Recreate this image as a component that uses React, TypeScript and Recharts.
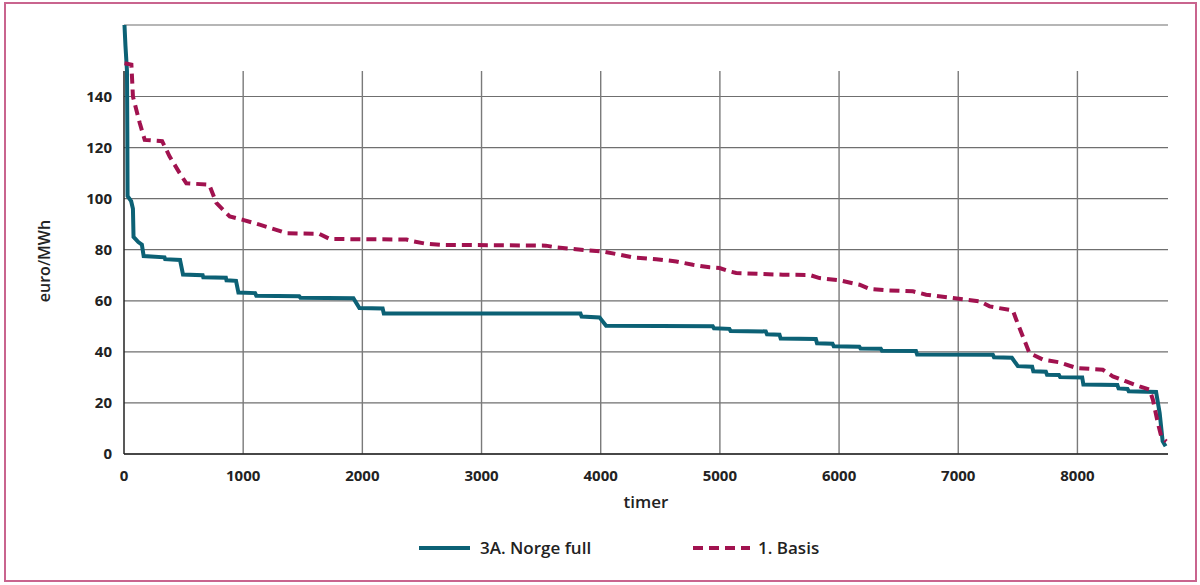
import React from "react";
import { LineChart, Line, XAxis, YAxis, CartesianGrid, ReferenceLine } from "recharts";

// Hours (x) and prices (euro/MWh)
const norgeHours = [4, 12, 25, 28, 30, 60, 75, 80, 120, 150, 165, 340, 345, 470, 495, 660, 665, 855, 860, 940, 960, 1100, 1110, 1470, 1480, 1925, 1975, 2170, 2180, 3830, 3840, 3990, 4045, 4940, 4950, 5080, 5090, 5385, 5395, 5500, 5510, 5805, 5815, 5945, 5955, 6170, 6180, 6350, 6360, 6645, 6655, 7290, 7300, 7450, 7500, 7620, 7630, 7735, 7745, 7845, 7855, 8040, 8050, 8335, 8345, 8420, 8430, 8660, 8690, 8715, 8740];
const norgeValues = [168, 160, 150, 125, 101, 99, 96, 85, 83, 82, 77.5, 77, 76.3, 76, 70.3, 70, 69.2, 69, 68, 67.8, 63.2, 63, 62, 61.8, 61.2, 61, 57.2, 57, 55, 55, 53.8, 53.5, 50.2, 50, 49.2, 49, 48.2, 48, 46.9, 46.7, 45.2, 45, 43.4, 43.2, 42.2, 42, 41.3, 41.2, 40.4, 40.3, 39, 38.9, 37.9, 37.7, 34.4, 34.2, 32.4, 32.2, 31, 30.9, 30.1, 30, 27.2, 27, 25.7, 25.5, 24.6, 24.3, 16, 5, 3];

const basisHours = [4, 62, 75, 132, 174, 320, 383, 467, 523, 715, 775, 887, 998, 1138, 1278, 1362, 1640, 1726, 2370, 2425, 2537, 2676, 3540, 3628, 3767, 3907, 4019, 4131, 4270, 4466, 4634, 4773, 4914, 4997, 5081, 5137, 5528, 5753, 5836, 6004, 6172, 6256, 6396, 6619, 6731, 6955, 7179, 7263, 7458, 7487, 7542, 7598, 7710, 7850, 7990, 8213, 8297, 8409, 8521, 8605, 8633, 8675, 8703, 8745];
const basisValues = [153, 152.5, 140, 129.6, 123, 122.5, 116.5, 110, 106, 105.5, 98.3, 93, 91.7, 89.8, 87.8, 86.5, 86.2, 84.2, 84, 83.3, 82.3, 81.9, 81.6, 80.9, 80.3, 79.7, 79.3, 78.3, 77, 76.3, 75.4, 74.1, 73.1, 72.8, 71.5, 70.9, 70.2, 70.1, 68.9, 68, 66.3, 64.6, 64.1, 63.7, 62.4, 61.1, 59.8, 57.8, 56.2, 52.6, 46, 39.5, 37, 35.9, 33.7, 33, 30.4, 28.4, 26.5, 25.2, 21.3, 12.1, 6.9, 4.9];

const xTicks = [0, 1000, 2000, 3000, 4000, 5000, 6000, 7000, 8000];
const yTicks = [0, 20, 40, 60, 80, 100, 120, 140];
const gridTop = 150;
const seriesNames = ["3A. Norge full", "1. Basis"];

const TEAL = "#0c6175";
const RED = "#a1124f";
const FONT = "'Open Sans', sans-serif";

const norgeData = norgeHours.map((h, i) => ({ h, v: norgeValues[i] }));
const basisData = basisHours.map((h, i) => ({ h, v: basisValues[i] }));

const YLabel = () => (
  <text
    x={44}
    y={261}
    transform="rotate(-90 44 261)"
    textAnchor="middle"
    dominantBaseline="central"
    fontFamily={FONT}
    fontSize={16}
    fontWeight={600}
    fill="#222"
  >
    euro/MWh
  </text>
);

export default function App() {
  return (
    <div style={{ position: "absolute", left: 0, top: 0, width: 1200, height: 585, background: "#fff" }}>
      <div
        style={{
          position: "absolute",
          left: 4,
          top: 2,
          width: 1189,
          height: 576,
          border: "2px solid #c9648e",
        }}
      />
      <div style={{ position: "absolute", left: 0, top: 0 }}>
        <LineChart width={1200} height={585} margin={{ top: 25, right: 32, left: 0, bottom: 0 }}>
          <CartesianGrid vertical={false} stroke="#6f6f6f" strokeWidth={1.2} />
          {xTicks.slice(1).map((t) => (
            <ReferenceLine
              key={t}
              segment={[{ x: t, y: 0 }, { x: t, y: gridTop }]}
              stroke="#7a7a7a"
              strokeWidth={1.4}
              ifOverflow="visible"
            />
          ))}
          <ReferenceLine
            segment={[{ x: 0, y: 0 }, { x: 0, y: gridTop }]}
            stroke="#222"
            strokeWidth={1.5}
            ifOverflow="visible"
          />
          <XAxis
            type="number"
            dataKey="h"
            domain={[0, 8760]}
            ticks={xTicks}
            height={131}
            tickSize={0}
            tickMargin={16}
            axisLine={{ stroke: "#222", strokeWidth: 1.5 }}
            tick={{ fontFamily: FONT, fontSize: 15, fontWeight: 700, fill: "#222" }}
            label={{ value: "timer", position: "insideTop", offset: 42, fontFamily: FONT, fontSize: 17, fontWeight: 600, fill: "#222" }}
          />
          <YAxis
            type="number"
            domain={[0, 168]}
            ticks={yTicks}
            width={124}
            tickSize={0}
            tickMargin={12}
            axisLine={false}
            tick={{ fontFamily: FONT, fontSize: 15, fontWeight: 700, fill: "#222" }}
            label={{ content: YLabel }}
          />
          <Line
            data={norgeData}
            dataKey="v"
            name={seriesNames[0]}
            stroke={TEAL}
            strokeWidth={4}
            dot={false}
            isAnimationActive={false}
          />
          <Line
            data={basisData}
            dataKey="v"
            name={seriesNames[1]}
            stroke={RED}
            strokeWidth={4}
            strokeDasharray="10 6"
            dot={false}
            isAnimationActive={false}
          />
        </LineChart>
      </div>
      <div
        style={{
          position: "absolute",
          left: 0,
          top: 536,
          width: 1200,
          height: 24,
          fontFamily: FONT,
          fontSize: 17,
          fontWeight: 600,
          color: "#222",
        }}
      >
        <svg style={{ position: "absolute", left: 419, top: 8 }} width={52} height={8}>
          <line x1={0} y1={4} x2={51} y2={4} stroke={TEAL} strokeWidth={4} />
        </svg>
        <span style={{ position: "absolute", left: 480, top: 0, lineHeight: "24px", whiteSpace: "nowrap" }}>{seriesNames[0]}</span>
        <svg style={{ position: "absolute", left: 693, top: 8 }} width={58} height={8}>
          <line x1={0} y1={4} x2={57} y2={4} stroke={RED} strokeWidth={4} strokeDasharray="10 6" />
        </svg>
        <span style={{ position: "absolute", left: 758, top: 0, lineHeight: "24px", whiteSpace: "nowrap" }}>{seriesNames[1]}</span>
      </div>
    </div>
  );
}
